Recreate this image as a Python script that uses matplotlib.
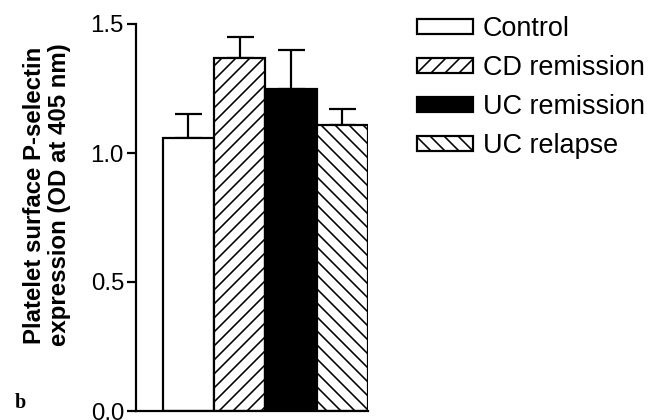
import matplotlib
matplotlib.use("Agg")
import matplotlib.pyplot as plt

DPI = 84
W, H = 655, 420
def pt(px):
    return px * 72.0 / DPI

categories = ["Control", "CD remission", "UC remission", "UC relapse"]
means = [1.06, 1.37, 1.25, 1.11]
errors = [0.09, 0.08, 0.15, 0.06]
yticks = [0.0, 0.5, 1.0, 1.5]
ytick_labels = ["0.0", "0.5", "1.0", "1.5"]

plt.rcParams["font.family"] = ["Liberation Sans", "DejaVu Sans"]
plt.rcParams["hatch.linewidth"] = pt(1.6)
plt.rcParams["hatch.color"] = "black"

fig = plt.figure(figsize=(W / DPI, H / DPI), dpi=DPI)
ax = fig.add_axes([136 / W, 1 - 411 / H, (368 - 136) / W, (411 - 24) / H])

faces = ["white", "white", "black", "white"]
hatches = [None, "//", None, "\\\\"]
x = list(range(len(categories)))
bars = []
for i in x:
    b = ax.bar(i, means[i], width=1.0, color=faces[i], edgecolor="black",
               linewidth=pt(2.2), hatch=hatches[i], label=categories[i],
               zorder=2)
    bars.append(b)
ax.errorbar(x, means, yerr=[[0] * len(x), errors], fmt="none", ecolor="black",
            elinewidth=pt(2.2), capsize=pt(13.5), capthick=pt(2.2), zorder=1)

ax.set_xlim(-1.02, 3.5)
ax.set_ylim(0, 1.5)
ax.set_yticks(yticks)
ax.set_yticklabels(ytick_labels)
ax.set_xticks([])
for s in ["top", "right"]:
    ax.spines[s].set_visible(False)
for s in ["left", "bottom"]:
    ax.spines[s].set_linewidth(pt(2.2))
ax.tick_params(axis="y", direction="out", length=pt(9), width=pt(2.2),
               labelsize=pt(24), pad=pt(3))

fig.text(47 / W, 1 - 195 / H, "Platelet surface P-selectin\nexpression (OD at 405 nm)",
         rotation=90, ha="center", va="center", multialignment="center",
         fontsize=pt(24), fontweight="bold", linespacing=1.15)

fig.text(20 / W, 1 - 403 / H, "b", ha="center", va="center",
         fontsize=pt(20), fontweight="bold", family=["Liberation Serif", "DejaVu Serif"])

fs = 27
leg = fig.legend(handles=[b[0] for b in bars], labels=categories,
                 loc="upper left", bbox_to_anchor=(417 / W, 1 - 16 / H),
                 frameon=False, fontsize=pt(fs), handlelength=56 / fs,
                 handleheight=13 / fs, handletextpad=10 / fs,
                 labelspacing=13 / fs, borderpad=0, borderaxespad=0)

fig.savefig("out.png", dpi=DPI)
